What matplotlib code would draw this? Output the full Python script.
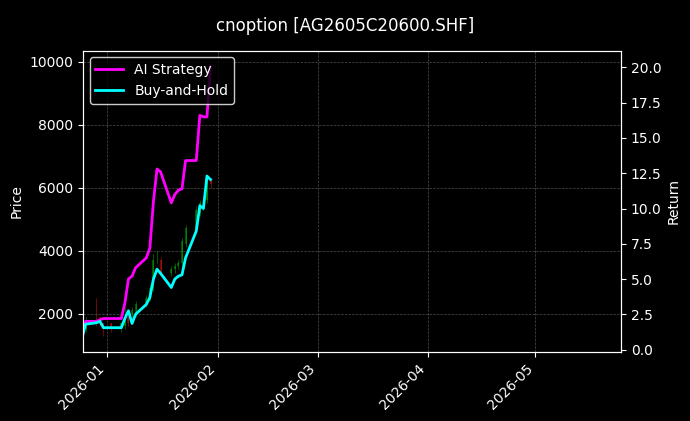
import matplotlib
matplotlib.use("Agg")
import matplotlib.pyplot as plt
import matplotlib.dates as mdates
import pandas as pd
import numpy as np

plt.style.use("dark_background")

dates = pd.to_datetime(["2025-12-25","2025-12-26","2025-12-29","2025-12-30","2025-12-31",
    "2026-01-02","2026-01-05","2026-01-06","2026-01-07","2026-01-08","2026-01-09",
    "2026-01-12","2026-01-13","2026-01-14","2026-01-15","2026-01-16","2026-01-19",
    "2026-01-20","2026-01-21","2026-01-22","2026-01-23","2026-01-26","2026-01-27",
    "2026-01-28","2026-01-29","2026-01-30"])
ai_ret = [1.0,2.0,2.0,2.1,2.2,2.2,2.2,3.3,5.0,5.2,5.8,6.5,7.2,10.5,12.8,12.6,10.4,11.0,11.3,11.4,13.4,13.4,16.6,16.5,16.5,20.1]
bh_ret = [0.85,1.8,1.9,2.0,1.55,1.55,1.55,2.2,2.75,1.85,2.5,3.2,3.7,5.0,5.7,5.4,4.4,5.0,5.2,5.3,6.5,8.4,10.2,10.0,12.3,12.05]
opens  = [1300,1500,1800,1900,1700,1700,1500,1600,1900,2000,2000,2300,2500,2800,3800,3700,3300,3400,3500,3600,4200,4700,5200,5500,5600,6200]
closes = [1000,1800,1700,1800,1500,1500,1700,1900,1700,2100,2300,2500,2800,3700,3800,3300,3400,3500,3600,4300,4700,5300,5500,5500,6200,6100]
highs  = [1500,1900,2500,1900,1700,1700,1700,2200,2000,2200,2400,2600,2900,3900,4000,3800,3500,3600,3700,4400,4800,5400,5600,5700,6300,6300]
lows   = [900,1400,1600,1600,1300,1400,1400,1500,1600,1900,1900,2200,2400,2700,3600,3200,3200,3300,3400,3500,4100,4600,5100,5300,5500,6000]

fig, ax = plt.subplots(figsize=(6.9, 4.21), dpi=100)
fig.patch.set_facecolor("black")
ax.set_facecolor("black")
for d, o, c, h, l in zip(dates, opens, closes, highs, lows):
    col = "#00aa00" if c >= o else "#dd1010"
    ax.vlines(d, l, h, color=col, linewidth=0.6, alpha=0.6, zorder=1)
    ax.vlines(d, min(o, c), max(o, c), color=col, linewidth=1.2, alpha=0.6, zorder=1)
ax.set_ylim(794, 10350)
ax.set_ylabel("Price")
ax.grid(True, color="gray", linestyle="--", linewidth=0.5, alpha=0.6)

ax2 = ax.twinx()
l1, = ax2.plot(dates, ai_ret, color="magenta", linewidth=2, label="AI Strategy")
l2, = ax2.plot(dates, bh_ret, color="cyan", linewidth=2, label="Buy-and-Hold")
ax2.set_ylim(-0.14, 21.2)
ax2.set_ylabel("Return")
ax.set_xlim(pd.Timestamp("2025-12-25 05:00"), pd.Timestamp("2026-05-25"))
ax.xaxis.set_major_locator(mdates.MonthLocator())
ax.xaxis.set_major_formatter(mdates.DateFormatter("%Y-%m"))
plt.setp(ax.get_xticklabels(), rotation=45, ha="right")
ax2.legend(handles=[l1, l2], loc="upper left", facecolor="black", edgecolor="white")
fig.suptitle("cnoption [AG2605C20600.SHF]", y=0.96)
fig.subplots_adjust(left=0.12, right=0.9, top=0.88, bottom=0.165)
fig.savefig("out.png", dpi=100, facecolor="black")
